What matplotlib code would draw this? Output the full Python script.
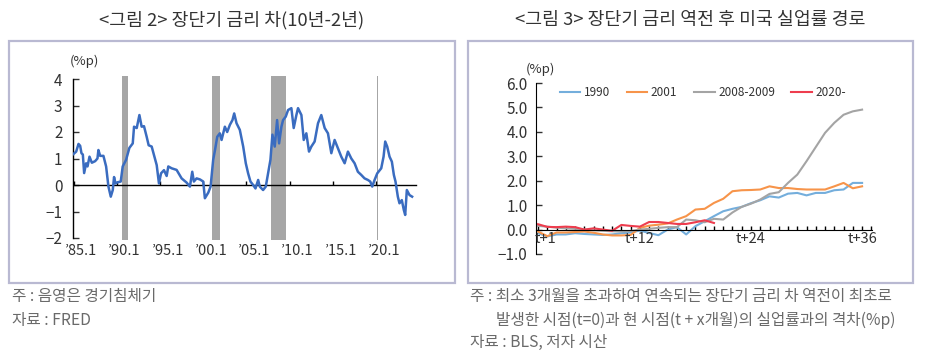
import matplotlib
matplotlib.use("Agg")
import matplotlib.pyplot as plt
from matplotlib.patches import Rectangle

plt.rcParams['font.family'] = ['Noto Sans CJK KR', 'DejaVu Sans']

# ---- left chart: 10y - 2y spread (%p)
spread_year = [1985.00, 1985.31, 1985.58, 1985.77, 1985.92, 1986.08, 1986.23, 1986.46, 1986.62, 1986.85,
               1987.12, 1987.50, 1987.77, 1987.88, 1988.08, 1988.46, 1988.77, 1989.04, 1989.31, 1989.54,
               1989.69, 1989.85, 1990.08, 1990.46, 1990.69, 1991.08, 1991.46, 1991.85, 1992.00, 1992.31,
               1992.62, 1992.88, 1993.15, 1993.46, 1993.69, 1994.04, 1994.31, 1994.62, 1994.88, 1995.12,
               1995.46, 1995.77, 1995.96, 1996.35, 1996.92, 1997.50, 1998.08, 1998.46, 1998.73, 1998.92,
               1999.23, 1999.62, 2000.00, 2000.19, 2000.58, 2000.85, 2001.15, 2001.35, 2001.62, 2001.92,
               2002.12, 2002.50, 2002.77, 2003.08, 2003.38, 2003.58, 2003.85, 2004.23, 2004.62, 2004.92,
               2005.19, 2005.46, 2005.77, 2006.04, 2006.35, 2006.54, 2006.92, 2007.23, 2007.50, 2007.77,
               2008.00, 2008.27, 2008.54, 2008.77, 2009.04, 2009.23, 2009.54, 2009.81, 2010.19, 2010.46,
               2010.77, 2010.96, 2011.35, 2011.62, 2011.92, 2012.23, 2012.50, 2012.88, 2013.27, 2013.65,
               2014.04, 2014.42, 2014.81, 2015.19, 2015.58, 2015.96, 2016.35, 2016.73, 2017.12, 2017.50,
               2017.88, 2018.27, 2018.65, 2019.04, 2019.31, 2019.54, 2019.81, 2020.12, 2020.58, 2020.85,
               2021.04, 2021.27, 2021.54, 2021.81, 2022.04, 2022.23, 2022.50, 2022.69, 2022.96, 2023.19,
               2023.35, 2023.54, 2023.85, 2024.15]
spread_val = [1.17, 1.26, 1.55, 1.48, 1.20, 1.15, 0.45, 0.82, 0.70, 1.07,
              0.84, 0.90, 1.00, 1.32, 1.10, 1.10, 0.70, -0.06, -0.44, -0.19,
              0.30, 0.06, 0.10, 0.13, 0.70, 0.95, 1.40, 1.57, 2.20, 2.15,
              2.64, 2.20, 2.22, 1.82, 1.50, 1.45, 1.13, 0.75, 0.06, 0.44,
              0.56, 0.34, 0.70, 0.63, 0.57, 0.25, 0.09, -0.06, 0.50, 0.13,
              0.25, 0.21, 0.13, -0.50, -0.29, -0.06, 0.95, 1.30, 1.82, 1.95,
              1.70, 2.20, 2.00, 2.27, 2.45, 2.70, 2.33, 2.08, 1.45, 0.82,
              0.44, 0.13, 0.00, -0.13, 0.19, -0.06, -0.19, -0.06, 0.44, 0.95,
              1.90, 1.45, 2.45, 1.57, 2.20, 2.45, 2.58, 2.83, 2.90, 2.15,
              2.64, 2.90, 2.64, 1.70, 1.95, 1.26, 1.45, 1.64, 2.33, 2.64,
              2.15, 1.95, 1.20, 1.70, 1.38, 1.07, 0.82, 1.26, 1.00, 0.82,
              0.50, 0.38, 0.25, 0.19, 0.13, -0.06, 0.19, 0.44, 0.63, 1.07,
              1.64, 1.45, 1.07, 0.88, 0.38, 0.13, -0.44, -0.69, -0.57, -0.94,
              -1.13, -0.19, -0.38, -0.44]
recession_start = [1990.60, 2001.05, 2007.85, 2020.12]
recession_end = [1991.28, 2001.90, 2009.55, 2020.25]
left_tick_years = [1985, 1990, 1995, 2000, 2005, 2010, 2015, 2020]
left_tick_labels = ["\u201985.1", "\u201990.1", "\u201995.1", "\u201900.1",
                    "\u201905.1", "\u201910.1", "\u201915.1", "\u201920.1"]

# ---- right chart: unemployment gap after curve inversion (%p)
months = list(range(1, 37))
u1990 = [-0.15, -0.28, -0.20, -0.20, -0.15, -0.18, -0.20, -0.22, -0.20, -0.15, -0.12, -0.04,
         -0.14, -0.23, 0.00, 0.10, -0.20, 0.14, 0.34, 0.55, 0.75, 0.85, 0.93, 1.08,
         1.20, 1.36, 1.31, 1.47, 1.50, 1.40, 1.50, 1.50, 1.61, 1.64, 1.91, 1.91]
u2001 = [-0.08, -0.27, -0.12, -0.12, -0.10, -0.08, -0.13, -0.20, -0.24, -0.24, -0.22, 0.07,
         0.16, 0.20, 0.25, 0.41, 0.55, 0.82, 0.85, 1.09, 1.26, 1.57, 1.61, 1.62,
         1.64, 1.77, 1.70, 1.70, 1.66, 1.64, 1.64, 1.64, 1.77, 1.91, 1.69, 1.77]
u2008 = [0.15, 0.12, 0.08, 0.05, 0.03, 0.00, -0.03, -0.05, -0.07, -0.08, -0.06, 0.00,
         0.03, 0.07, 0.10, 0.10, 0.41, 0.38, 0.30, 0.44, 0.41, 0.70, 0.93, 1.06,
         1.23, 1.46, 1.53, 1.91, 2.25, 2.80, 3.38, 3.96, 4.37, 4.70, 4.84, 4.91]
u2020 = [0.22, 0.11, 0.10, 0.12, 0.10, 0.00, 0.05, 0.00, -0.05, 0.19, 0.15, 0.12,
         0.31, 0.31, 0.27, 0.23, 0.23, 0.30, 0.38, 0.27]
series_names = ["1990", "2001", "2008-2009", "2020-"]
series_colors = ["#74aedc", "#f7944a", "#a4a4a4", "#ee3d4e"]
right_tick_months = [1, 12, 24, 36]
right_tick_labels = ["t+1", "t+12", "t+24", "t+36"]

W, H = 928, 360
fig = plt.figure(figsize=(W / 100, H / 100), dpi=100)
text_c = "#333333"
note_c = "#6a6a6a"


def px_rect(x0, y0, x1, y1):
    # pixel box (top-left origin) -> figure fraction [l, b, w, h]
    return [x0 / W, 1 - y1 / H, (x1 - x0) / W, (y1 - y0) / H]


# panel frames
for (x0, y0, x1, y1) in [(9, 41, 455, 283), (468, 41, 913, 283)]:
    l, b, w, h = px_rect(x0, y0, x1, y1)
    fig.patches.append(Rectangle((l, b), w, h, transform=fig.transFigure,
                                 fill=False, edgecolor="#b9b9d2", linewidth=1.6))

# titles
fig.text(232 / W, 1 - 20 / H, "<그림 2> 장단기 금리 차(10년-2년)", ha="center", va="center",
         fontsize=13.2, color=text_c)
fig.text(690 / W, 1 - 20 / H, "<그림 3> 장단기 금리 역전 후 미국 실업률 경로", ha="center",
         va="center", fontsize=13.2, color=text_c)

# ---------------- left chart
ax1 = fig.add_axes(px_rect(73.5, 79, 416, 238))
ax1.set_xlim(1985.0, 2024.6)
ax1.set_ylim(-2, 4)
for s, e in zip(recession_start, recession_end):
    ax1.axvspan(s, e, ymin=-0.013, ymax=1.02, color="#a6a6a6", lw=0, clip_on=False, zorder=1)
ax1.plot(spread_year, spread_val, color="#3a6cc0", lw=1.8, zorder=3)
ax1.spines["top"].set_visible(False)
ax1.spines["right"].set_visible(False)
ax1.spines["bottom"].set_position(("data", 0))
ax1.spines["bottom"].set_linewidth(1.0)
ax1.spines["left"].set_linewidth(1.0)
ax1.set_yticks(range(-2, 5))
ax1.set_yticklabels([str(v).replace("-", "\u2212") for v in range(-2, 5)])
ax1.tick_params(axis="y", direction="in", length=4, width=1, labelsize=11, colors=text_c, pad=8)
ax1.set_xticks(left_tick_years)
ax1.set_xticklabels([])
ax1.tick_params(axis="x", direction="in", length=3, width=1)
for yr, lab in zip(left_tick_years, left_tick_labels):
    ax1.annotate(lab, xy=(yr + 0.9, -2), xytext=(0, -4), textcoords="offset points",
                 ha="center", va="top", fontsize=10.5, color=text_c, annotation_clip=False)
ax1.text(-0.01, 1.07, "(%p)", transform=ax1.transAxes, ha="left", va="bottom",
         fontsize=9.5, color=text_c)

# ---------------- right chart
ax2 = fig.add_axes(px_rect(536, 83, 872, 254))
ax2.set_xlim(0.78, 37.07)
ax2.set_ylim(-1, 6)
for vals, name, col in zip([u1990, u2001, u2008, u2020], series_names, series_colors):
    ax2.plot(months[:len(vals)], vals, color=col, lw=1.5, label=name)
ax2.spines["top"].set_visible(False)
ax2.spines["right"].set_visible(False)
ax2.spines["bottom"].set_position(("data", 0))
ax2.set_yticks(range(-1, 7))
ax2.set_yticklabels([f"{v:.1f}".replace("-", "\u2212") for v in range(-1, 7)])
ax2.tick_params(axis="y", direction="in", length=4, width=1, labelsize=11, colors=text_c, pad=6)
ax2.set_xticks(range(1, 38))
ax2.set_xticklabels([])
ax2.tick_params(axis="x", direction="in", length=3, width=1)
for m, lab in zip(right_tick_months, right_tick_labels):
    xm = m + 0.8 if m == 1 else m
    ax2.text(xm, -0.37, lab, ha="center", va="center", fontsize=10.5, color=text_c)
ax2.text(-0.03, 1.04, "(%p)", transform=ax2.transAxes, ha="left", va="bottom",
         fontsize=9.5, color=text_c)
leg = ax2.legend(ncol=4, frameon=False, loc="center", bbox_to_anchor=(703 / W, 1 - 93 / H),
                 bbox_transform=fig.transFigure, fontsize=8.5, handlelength=1.75,
                 handletextpad=0.3, columnspacing=1.4)
for t in leg.get_texts():
    t.set_color(text_c)

# notes
fig.text(12 / W, 1 - 297 / H, "주 : 음영은 경기침체기", ha="left", va="center", fontsize=11.3, color=note_c)
fig.text(12 / W, 1 - 320 / H, "자료 : FRED", ha="left", va="center", fontsize=11.3, color=note_c)
fig.text(470 / W, 1 - 297 / H, "주 : 최소 3개월을 초과하여 연속되는 장단기 금리 차 역전이 최초로",
         ha="left", va="center", fontsize=11.3, color=note_c)
fig.text(496 / W, 1 - 320 / H, "발생한 시점(t=0)과 현 시점(t + x개월)의 실업률과의 격차(%p)",
         ha="left", va="center", fontsize=11.3, color=note_c)
fig.text(470 / W, 1 - 342 / H, "자료 : BLS, 저자 시산", ha="left", va="center", fontsize=11.3, color=note_c)

fig.savefig("out.png", dpi=100)
